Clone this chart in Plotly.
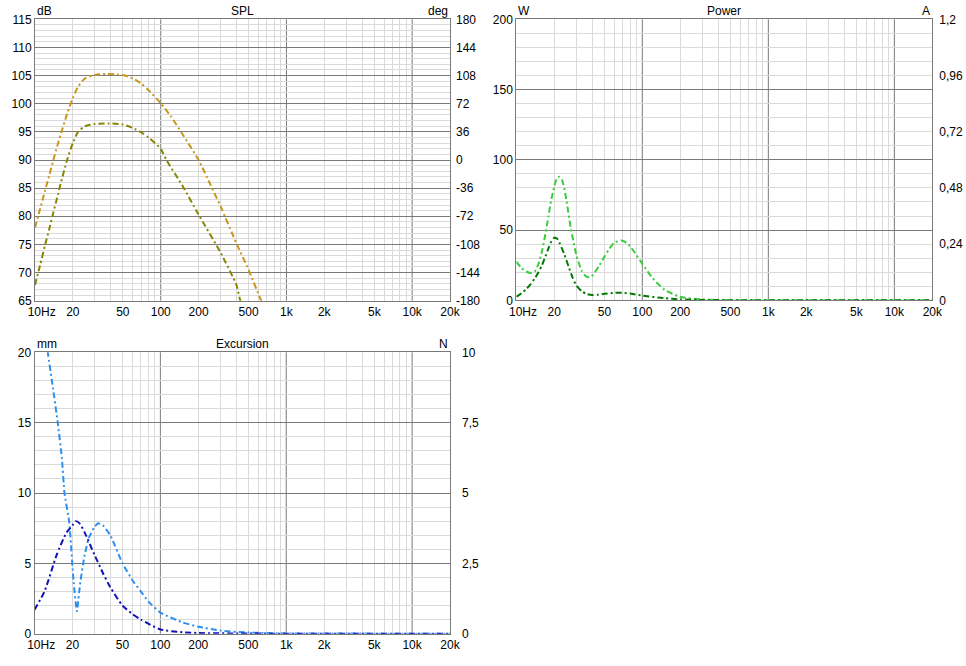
import math
import plotly.graph_objects as go

# ---------------- data ----------------
freq_ticks = [10, 20, 50, 100, 200, 500, 1000, 2000, 5000, 10000, 20000]
freq_tick_text = ["\u00a0\u00a0\u00a0\u00a010Hz", "20", "50", "100", "200", "500", "1k", "2k", "5k", "10k", "20k"]
decade_lines = [100, 1000, 10000]
minor_lines = [20, 30, 40, 50, 60, 70, 80, 90,
               200, 300, 400, 500, 600, 700, 800, 900,
               2000, 3000, 4000, 5000, 6000, 7000, 8000, 9000]

# SPL (dB)
spl1_f = [10, 11, 12, 13, 14, 15, 16, 18, 20, 22, 25, 30, 37, 45, 50, 60, 70, 80, 100, 120, 150, 200, 250, 300, 400, 500, 630, 700]
spl1_db = [78, 81.4, 84.5, 87.3, 90, 92.4, 94.5, 98.2, 101, 103, 104.5, 105.1, 105.3, 105.2, 105.1, 104.5, 103.6, 102.4, 100.1, 97.8, 94.5, 90, 85.5, 81.7, 75.2, 70.5, 65, 63]
spl2_f = [10, 11, 12, 13, 14, 15, 16, 18, 20, 22, 25, 30, 39, 50, 60, 70, 80, 100, 111, 150, 200, 300, 400, 430, 500]
spl2_db = [67.8, 71.4, 74.8, 77.8, 80.7, 83.3, 85.8, 90, 93, 95, 96, 96.4, 96.5, 96.3, 95.7, 94.9, 94.0, 92.0, 90, 85.3, 80.3, 73.5, 67.8, 65, 62]
spl_ticks = [65, 70, 75, 80, 85, 90, 95, 100, 105, 110, 115]
deg_ticks = [-180, -144, -108, -72, -36, 0, 36, 72, 108, 144, 180]
deg_text = ["-180", "-144", "-108", "-72", "-36", "0", "36", "72", "108", "144", "180"]

# Power (W)
pw1_f = [10, 11, 12, 13, 14, 15, 16, 17, 18, 19, 20, 21, 22, 23, 24, 25, 27, 30, 33, 36, 38, 40, 45, 50, 55, 60, 68, 75, 80, 90, 100, 120, 150, 200, 300, 500, 1000, 20000]
pw1_w = [27.5, 23, 20.5, 19.5, 20.5, 26, 35, 47, 60, 72, 81, 87, 88, 86, 80, 71, 52, 32, 21, 16.8, 16.5, 17.5, 24, 31, 37, 41, 42.5, 41, 38.5, 32, 26, 16, 7.5, 2.5, 0.6, 0.15, 0.05, 0]
pw2_f = [10, 11, 12, 13, 14, 15, 16, 17, 18, 19, 20, 21, 22, 24, 26, 28, 30, 33, 36, 40, 45, 50, 60, 65, 70, 80, 100, 150, 200, 300, 500, 20000]
pw2_w = [2.6, 5, 8, 11.5, 15.5, 20, 25, 31, 37, 42, 44.5, 44, 41, 33, 24, 16, 10.5, 6.5, 4.5, 3.8, 4, 4.6, 5.3, 5.4, 5.3, 4.8, 3.3, 1.5, 0.7, 0.25, 0.08, 0]
pw_ticks = [0, 50, 100, 150, 200]
amp_ticks = [0, 0.24, 0.48, 0.72, 0.96, 1.2]
amp_text = ["0", "0,24", "0,48", "0,72", "0,96", "1,2"]

# Excursion (mm)
ex1_f = [10, 11, 12, 12.75, 14, 15.3, 16.5, 17.3, 18.9, 20.4, 21.7, 23, 24.9, 27, 30, 32, 35, 40, 50, 60, 70, 80, 100, 150, 200, 300, 500, 1000, 20000]
ex1_mm = [28, 25, 22, 20, 17.5, 15, 12.5, 10, 7.9, 3.8, 1.6, 3.5, 5.5, 6.8, 7.6, 7.85, 7.7, 7.0, 5.0, 3.8, 3.0, 2.3, 1.5, 0.8, 0.5, 0.22, 0.08, 0.02, 0]
ex2_f = [10, 12, 15, 18, 20, 21.3, 23, 25, 30, 35, 40, 50, 60, 70, 100, 150, 200, 500, 20000]
ex2_mm = [1.7, 3.0, 5.6, 7.2, 7.7, 8.0, 7.8, 7.2, 5.6, 4.3, 3.3, 2.0, 1.4, 1.0, 0.3, 0.1, 0.05, 0.01, 0]
ex_ticks = [0, 5, 10, 15, 20]
n_ticks = [0, 2.5, 5, 7.5, 10]
n_text = ["0", "2,5", "5", "7,5", "10"]

# ---------------- style ----------------
W, H = 966, 666
FONT = "Liberation Sans, Arial, sans-serif"
MAJOR = "#7a7a7a"
MINORC = "#dadada"
DASH = "6px,3px,2px,3px"

def px(x):
    return x / W

def py(y):
    return 1 - y / H

fig = go.Figure()

def add_line(f, v, color, xa, ya, smooth=0.6):
    fig.add_trace(go.Scatter(x=f, y=v, mode="lines", xaxis=xa, yaxis=ya,
                             line=dict(color=color, width=2, dash=DASH, shape="spline", smoothing=smooth),
                             showlegend=False, hoverinfo="skip", cliponaxis=True))

add_line(spl1_f, spl1_db, "#C8961E", "x", "y")
add_line(spl2_f, spl2_db, "#868600", "x", "y")
add_line(pw1_f, pw1_w, "#3ACC3A", "x2", "y3")
add_line(pw2_f, pw2_w, "#007A00", "x2", "y3")
add_line(ex1_f, ex1_mm, "#2A8FF0", "x3", "y5", 0.4)
add_line(ex2_f, ex2_mm, "#1010B8", "x3", "y5")

# dummy traces for right axes
for xa, ya in (("x", "y2"), ("x2", "y4"), ("x3", "y6")):
    fig.add_trace(go.Scatter(x=[None], y=[None], xaxis=xa, yaxis=ya, showlegend=False, hoverinfo="skip"))

fr = [1, math.log10(20000)]

def xaxis_def(dom, anchor):
    return dict(type="log", range=fr, domain=dom, anchor=anchor, automargin=False,
                tickmode="array", tickvals=freq_ticks, ticktext=freq_tick_text,
                showgrid=False, zeroline=False, ticks="", ticklen=0,
                showline=True, mirror=True, linecolor=MAJOR, linewidth=1,
                minor=dict(tickmode="array", tickvals=minor_lines, showgrid=True,
                           gridcolor=MINORC, gridwidth=1, ticks=""),
                tickfont=dict(family=FONT, size=12, color="#000"))

def yaxis_def(dom, anchor, rng, ticks, minor_dt):
    return dict(range=rng, domain=dom, anchor=anchor, automargin=False, tickmode="array", tickvals=ticks,
                showgrid=True, gridcolor=MAJOR, gridwidth=1, zeroline=False, ticks="",
                showline=True, mirror=True, linecolor=MAJOR, linewidth=1,
                minor=dict(dtick=minor_dt, tick0=rng[0], showgrid=True, gridcolor=MINORC, gridwidth=1, ticks=""),
                tickfont=dict(family=FONT, size=12, color="#000"))

def yright_def(over, anchor, rng, ticks, text, standoff):
    return dict(range=rng, overlaying=over, anchor=anchor, side="right", automargin=False,
                tickmode="array", tickvals=ticks, ticktext=text, showgrid=False,
                zeroline=False, ticks="", showline=False, ticklabelstandoff=standoff,
                tickfont=dict(family=FONT, size=12, color="#000"))

spl_xd = [px(35), px(450)]
spl_yd = [py(300.7), py(19.3)]
pw_xd = [px(516.3), px(932.3)]
pw_yd = [py(300.3), py(19.3)]
ex_xd = [px(34.5), px(450)]
ex_yd = [py(633.7), py(352.3)]

fig.update_layout(
    width=W, height=H, margin=dict(l=0, r=0, t=0, b=0, autoexpand=False),
    paper_bgcolor="white", plot_bgcolor="white", showlegend=False,
    font=dict(family=FONT, size=12, color="#000"),
    xaxis=xaxis_def(spl_xd, "y"),
    yaxis=yaxis_def(spl_yd, "x", [65, 115], spl_ticks, 1),
    yaxis2=yright_def("y", "x", [-180, 180], deg_ticks, deg_text, 5),
    xaxis2=xaxis_def(pw_xd, "y3"),
    yaxis3=yaxis_def(pw_yd, "x2", [0, 200], pw_ticks, 10),
    yaxis4=yright_def("y3", "x2", [0, 1.2], amp_ticks, amp_text, 6),
    xaxis3=xaxis_def(ex_xd, "y5"),
    yaxis5=yaxis_def(ex_yd, "x3", [0, 20], ex_ticks, 1),
    yaxis6=yright_def("y5", "x3", [0, 10], n_ticks, n_text, 11),
)

# decade grid lines (dark)
shapes = []
for xr, yr in (("x", "y"), ("x2", "y3"), ("x3", "y5")):
    for d in decade_lines:
        shapes.append(dict(type="line", xref=xr, yref=yr + " domain", x0=d, x1=d, y0=0, y1=1,
                           line=dict(color=MAJOR, width=1), layer="below"))
fig.update_layout(shapes=shapes)

# titles and unit labels
ann = []
for xr, yr, title, lu, ru in (("x", "y", "SPL", "dB", "deg"),
                               ("x2", "y3", "Power", "W", "A"),
                               ("x3", "y5", "Excursion", "mm", "N")):
    ann.append(dict(text=title, xref=xr + " domain", yref=yr + " domain", x=0.5, y=1,
                    xanchor="center", yanchor="bottom", showarrow=False, yshift=-1,
                    font=dict(family=FONT, size=12, color="#000")))
    ann.append(dict(text=lu, xref=xr + " domain", yref=yr + " domain", x=0, y=1,
                    xanchor="left", yanchor="bottom", showarrow=False, yshift=-1,
                    font=dict(family=FONT, size=12, color="#000")))
    ann.append(dict(text=ru, xref=xr + " domain", yref=yr + " domain", x=1, y=1,
                    xanchor="right", yanchor="bottom", showarrow=False, yshift=-1,
                    font=dict(family=FONT, size=12, color="#000")))
fig.update_layout(annotations=ann)

fig.write_html("out.html", config={"displayModeBar": False},
               post_script="document.body.style.margin='0';document.body.style.overflow='hidden';")
